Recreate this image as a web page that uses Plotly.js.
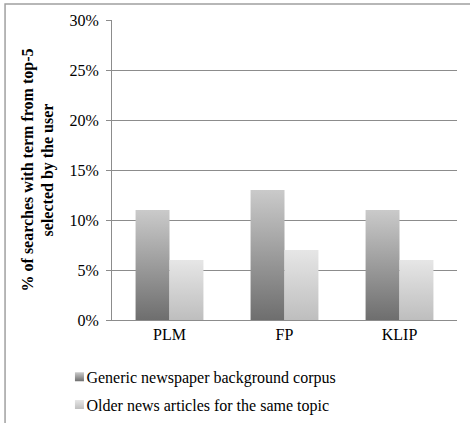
<!DOCTYPE html>
<html><head><meta charset="utf-8">
<script src="https://cdn.plot.ly/plotly-3.0.1.min.js"></script>
<style>body{margin:0;background:#fff}#c{width:470px;height:423px}</style>
</head><body><div id="c"></div>
<script>
const categories = ["PLM", "FP", "KLIP"];
const seriesNames = ["Generic newspaper background corpus", "Older news articles for the same topic"];
const genericValues = [0.11, 0.13, 0.11];
const olderValues = [0.06, 0.07, 0.06];
const yTickVals = [0, 0.05, 0.10, 0.15, 0.20, 0.25, 0.30];

const FAM = "Liberation Serif";
function mkFont(){ return {family: FAM, size: 16, color: "#000"}; }
const traces = [
  {type: "bar", x: categories, y: genericValues, name: seriesNames[0], legendgroup: "a",
   marker: {color: "#a0a0a0", line: {width: 0}}},
  {type: "bar", x: categories, y: olderValues, name: seriesNames[1], legendgroup: "b",
   marker: {color: "#d6d6d6", line: {width: 0}}}
];
const layout = {
  width: 470, height: 423,
  margin: {l: 112, r: 13, t: 20, b: 103, autoexpand: false},
  paper_bgcolor: "#fff", plot_bgcolor: "#fff",
  barmode: "group", bargap: 0.41, bargroupgap: 0,
  showlegend: true,
  legend: {orientation: "v", x: -0.19, xanchor: "left", y: -0.133, yanchor: "top",
           font: mkFont(), tracegroupgap: 4, traceorder: "grouped", bgcolor: "rgba(0,0,0,0)"},
  xaxis: {showgrid: false, showline: true, linecolor: "#8c8c8c", linewidth: 1,
          ticks: "", tickfont: mkFont(), zeroline: false, fixedrange: true},
  yaxis: {range: [0, 0.30], tickvals: yTickVals, tickformat: ".0%", tickfont: mkFont(),
          showgrid: true, gridcolor: "#8c8c8c", gridwidth: 1, showline: true,
          linecolor: "#8c8c8c", ticks: "outside", ticklen: 5, tickcolor: "#8c8c8c",
          zeroline: false, ticklabelstandoff: 4,
          title: {text: "<b>% of searches with term from top-5<br>selected by the user</b>",
                  font: mkFont(), standoff: 11}},
  shapes: [
    {type: "rect", xref: "paper", yref: "paper", x0: -0.31, x1: 1.2, y0: -0.5, y1: 1.053,
     line: {color: "#a0a0a0", width: 1.5}, fillcolor: "rgba(0,0,0,0)", layer: "below"}
  ]
};
Plotly.newPlot("c", traces, layout, {staticPlot: true}).then(function(gd){
  const svg = gd.querySelector("svg.main-svg");
  const ns = "http://www.w3.org/2000/svg";
  let defs = svg.querySelector("defs");
  function grad(id, bottom, top){
    const g = document.createElementNS(ns, "linearGradient");
    g.setAttribute("id", id); g.setAttribute("x1","0"); g.setAttribute("y1","1");
    g.setAttribute("x2","0"); g.setAttribute("y2","0");
    [[0,bottom],[1,top]].forEach(function(s){
      const st = document.createElementNS(ns, "stop");
      st.setAttribute("offset", s[0]); st.setAttribute("stop-color", s[1]);
      g.appendChild(st);
    });
    defs.appendChild(g);
  }
  grad("gA", "#6e6e6e", "#cacaca");
  grad("gB", "#bebebe", "#e6e6e6");
  const ids = ["gA", "gB"];
  gd.querySelectorAll(".barlayer .trace").forEach(function(t, i){
    t.querySelectorAll("path").forEach(function(p){ p.style.fill = "url(#" + ids[i] + ")"; });
  });
  gd.querySelectorAll(".legend .traces").forEach(function(t, i){
    t.querySelectorAll(".legendpoints path").forEach(function(p){
      p.style.fill = "url(#" + ids[i] + ")";
      p.setAttribute("transform", "translate(33,0) scale(0.75)");
    });
  });
});
</script></body></html>
